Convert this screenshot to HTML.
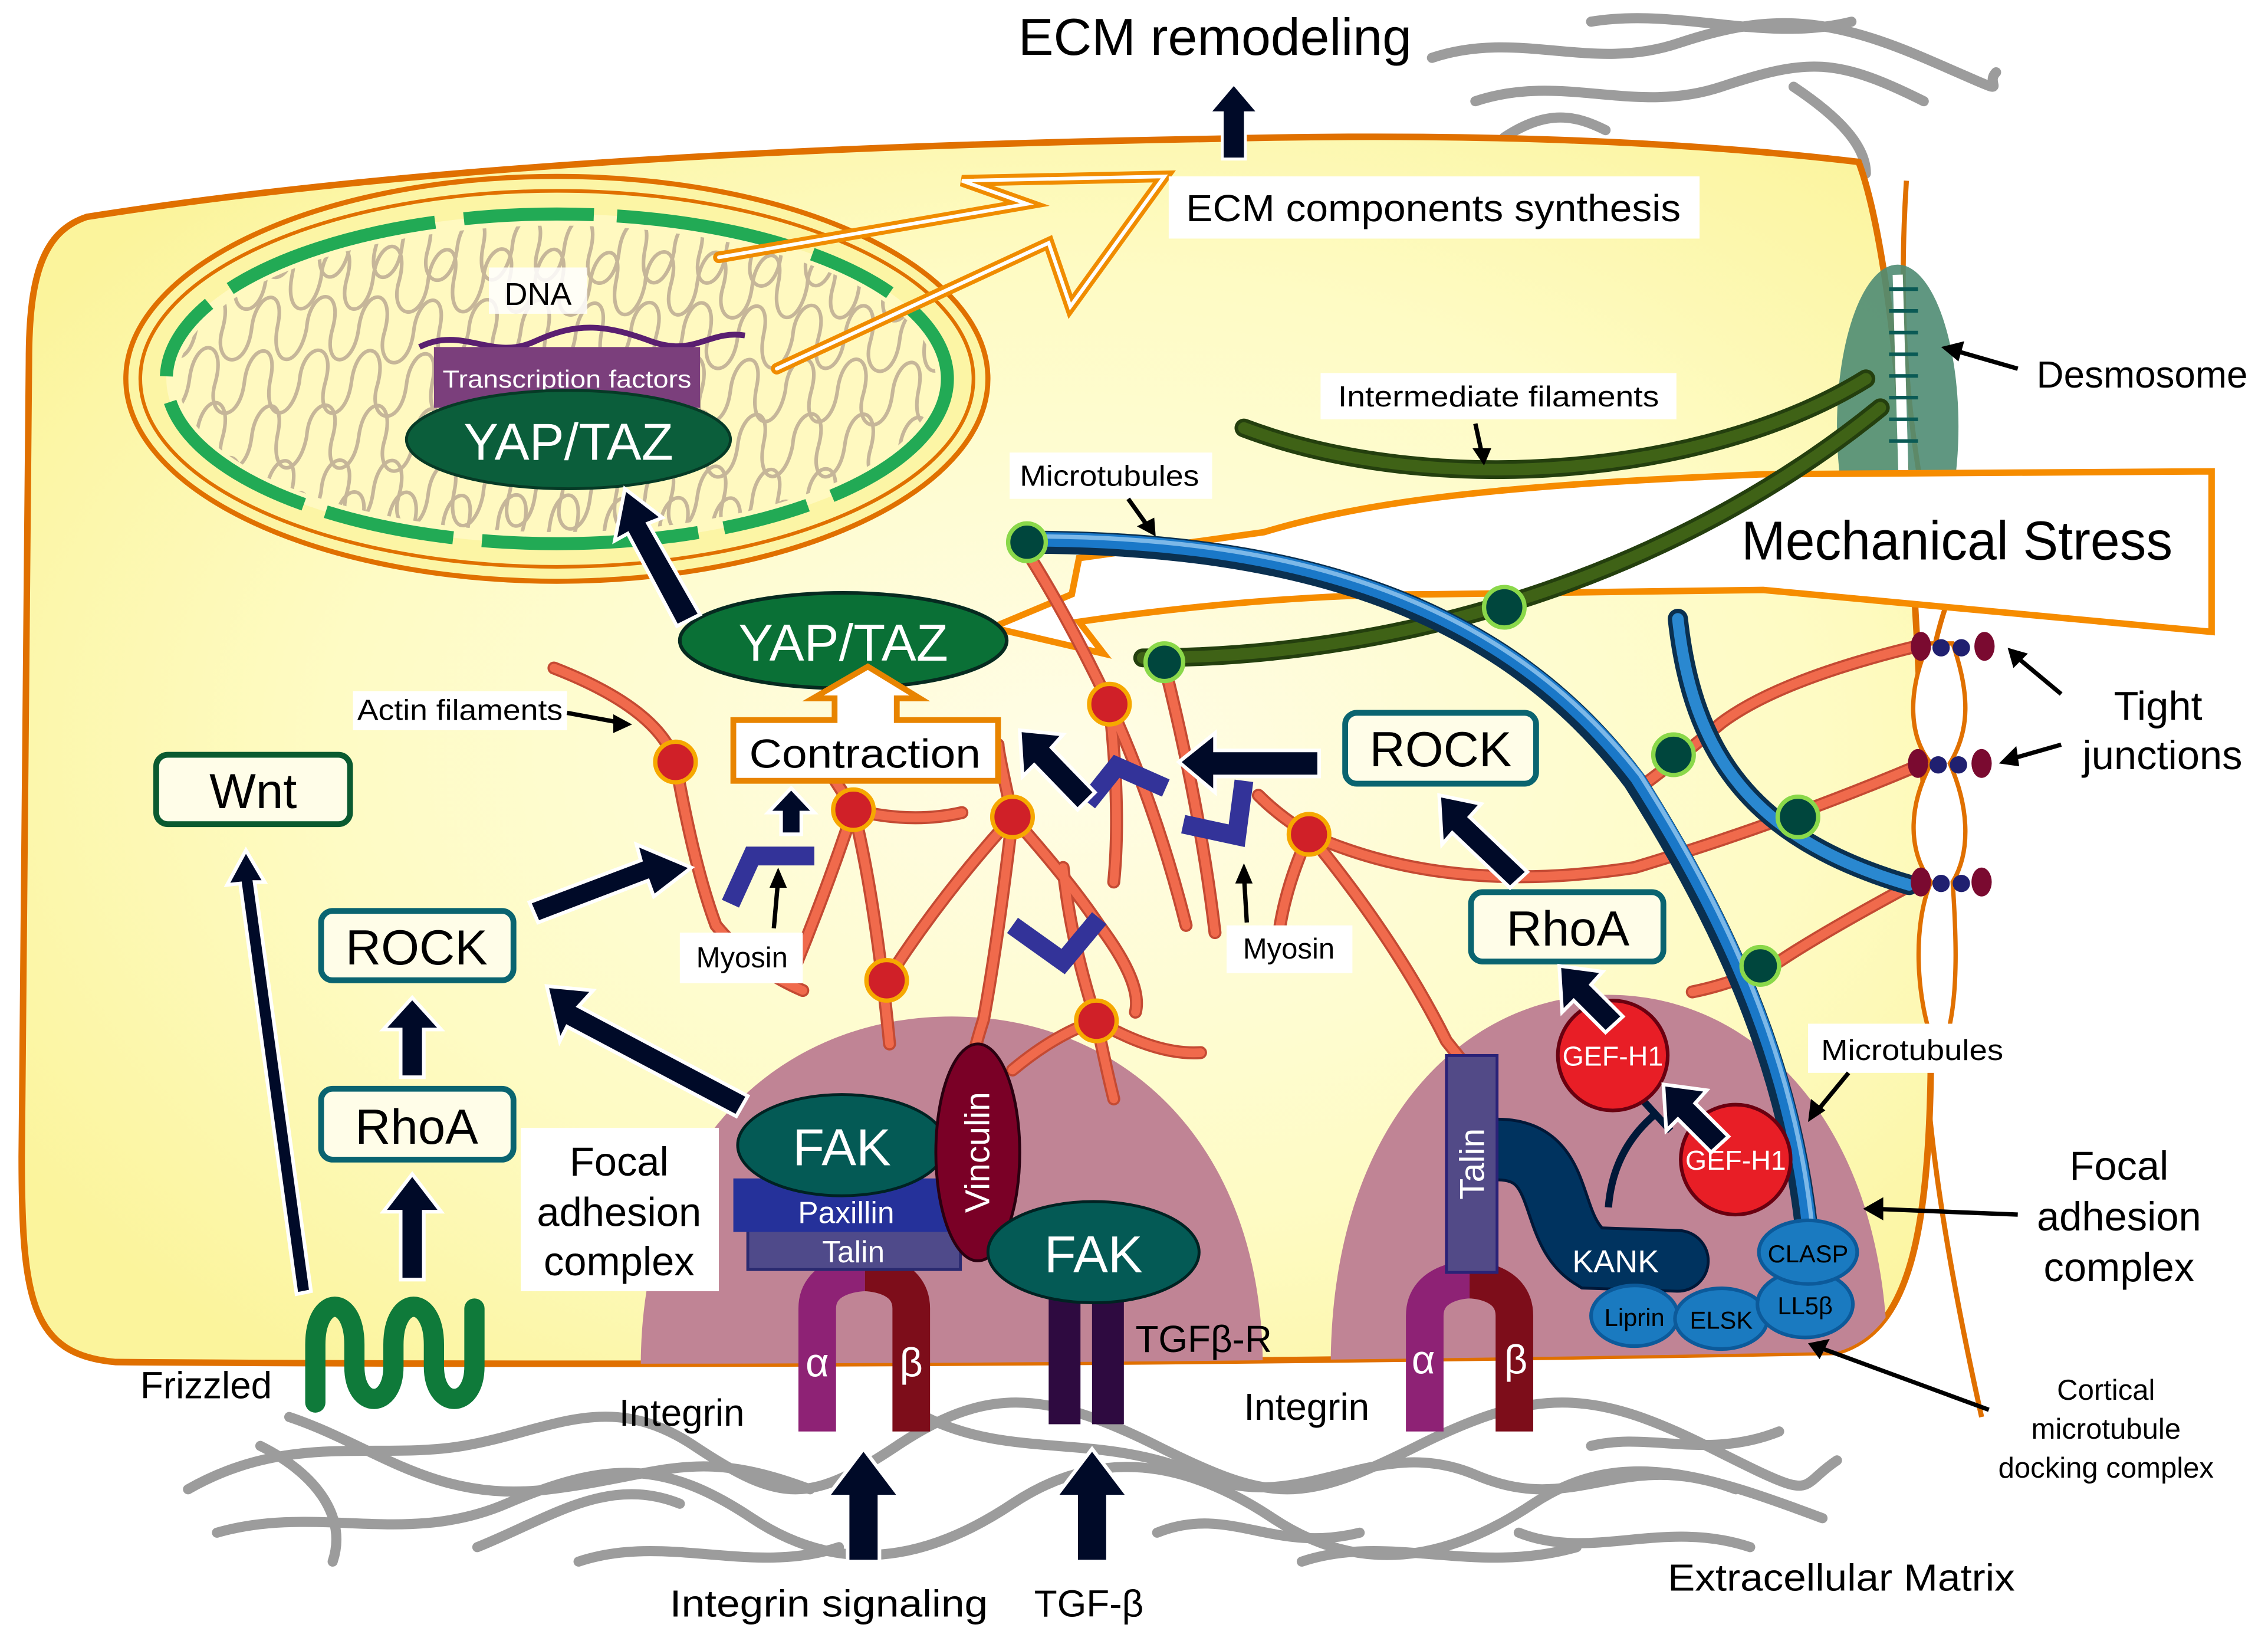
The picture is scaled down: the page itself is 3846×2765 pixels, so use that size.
<!DOCTYPE html>
<html><head><meta charset="utf-8"><style>
html,body{margin:0;padding:0;background:#fff}
svg{display:block}
text{font-family:"Liberation Sans","DejaVu Sans",sans-serif}
</style></head><body>
<svg width="3846" height="2765" viewBox="0 0 1568 1128" preserveAspectRatio="none" xmlns="http://www.w3.org/2000/svg">
<defs>
<radialGradient id="cg" cx="0.55" cy="0.5" r="0.65">
<stop offset="0" stop-color="#fffde6"/><stop offset="0.6" stop-color="#fefbc4"/><stop offset="1" stop-color="#fbf49c"/>
</radialGradient>
<clipPath id="cell"><path d="M60 150 C300 112 600 100 840 96 C1000 92 1150 96 1285 112 C1318 200 1330 500 1335 700 C1336 850 1322 920 1270 935 C900 942 500 945 80 942 C22 937 15 900 15 800 L20 250 C20 190 30 160 60 150 Z"/></clipPath>
<clipPath id="nuc"><ellipse cx="385" cy="262" rx="262" ry="106"/></clipPath>
<path id="sq" d="M0 0 c5 -30 25 -30 18 0 c-6 28 14 30 18 0 c4 -30 26 -28 18 2 c-8 26 16 32 20 0 c3 -26 24 -30 18 -2 c-6 30 14 32 20 2 c2 -28 26 -30 18 0 c-8 28 14 30 18 0 c4 -30 26 -28 18 2 c-8 26 16 32 20 0 c3 -26 24 -30 18 -2 c-6 30 14 32 20 2 c2 -28 26 -30 18 0 c-8 28 14 30 18 0 c4 -30 26 -28 18 2 c-8 26 16 32 20 0 c3 -26 24 -30 18 -2 c-6 30 14 32 20 2 c2 -28 26 -30 18 0 c-8 28 14 30 18 0 c4 -30 26 -28 18 2 c-8 26 16 32 20 0 c3 -26 24 -30 18 -2 c-6 30 14 32 20 2 c2 -28 26 -30 18 0 c-8 28 14 30 18 0 c4 -30 26 -28 18 2 c-8 26 16 32 20 0 c3 -26 24 -30 18 -2 c-6 30 14 32 20 2 c2 -28 26 -30 18 0 c-8 28 14 30 18 0 c4 -30 26 -28 18 2 c-8 26 16 32 20 0 c3 -26 24 -30 18 -2 c-6 30 14 32 20 2"/>
</defs>
<rect width="1568" height="1128" fill="#fff"/>
<g fill="none" stroke="#9c9c9c" stroke-width="7" stroke-linecap="round">
<path d="M130 1030 C200 990 260 1010 320 1000 S420 960 480 1000 S560 1040 620 1000 S720 960 800 1000 S900 1040 980 1000 S1100 960 1180 1000 S1240 1030 1270 1010"/>
<path d="M150 1060 C220 1040 280 1070 350 1040 S460 1010 520 1050 S640 1080 700 1040 S820 1010 880 1050 S1000 1080 1060 1040 S1180 1020 1260 1050"/>
<path d="M200 980 C260 1000 300 1040 380 1030 S480 1000 560 1030"/>
<path d="M640 980 C700 1010 760 990 830 1020 S950 990 1020 1020 S1120 1000 1200 1030"/>
<path d="M400 1080 C460 1060 520 1090 580 1070 M900 1080 C960 1060 1020 1090 1090 1070"/>
<path d="M180 1000 C220 1020 240 1050 230 1080 M1100 1000 C1140 990 1180 1010 1230 990"/>
<path d="M330 1070 C380 1050 420 1020 470 1040 M800 1060 C850 1040 880 1075 940 1060 M1050 1060 C1100 1080 1150 1050 1210 1070"/>
<path d="M990 40 C1050 20 1100 50 1160 30 S1260 10 1330 40 S1370 60 1380 50"/>
<path d="M1020 70 C1080 50 1130 80 1190 60 S1270 40 1330 70"/>
<path d="M1100 15 C1160 5 1220 30 1280 15 M1240 60 C1270 80 1290 100 1290 120 M1040 95 C1070 75 1090 80 1110 90"/>
</g>
<path d="M1318 125 C1310 250 1325 330 1345 420 C1325 480 1325 560 1340 610 C1320 680 1330 800 1370 980" fill="none" stroke="#e07000" stroke-width="3.5"/>
<path d="M60 150 C300 112 600 100 840 96 C1000 92 1150 96 1285 112 C1318 200 1330 500 1335 700 C1336 850 1322 920 1270 935 C900 942 500 945 80 942 C22 937 15 900 15 800 L20 250 C20 190 30 160 60 150 Z" fill="url(#cg)" stroke="#e07000" stroke-width="4.5"/>
<path d="M1333 445 C1318 480 1320 510 1335 528 C1318 560 1320 590 1335 610 C1322 640 1325 690 1336 720 L1345 720 C1355 690 1352 640 1350 610 C1362 590 1362 560 1348 528 C1362 505 1362 480 1350 445 Z" fill="#fff" stroke="#e07000" stroke-width="3"/>
<ellipse cx="1312" cy="295" rx="42" ry="112" fill="#4f8c73" opacity="0.9"/>
<line x1="1312" y1="190" x2="1318" y2="400" stroke="#fff" stroke-width="7"/>
<g stroke="#0a5a55" stroke-width="2.5"><path d="M1306 200 L1326 200 M1306 215 L1326 215 M1306 230 L1326 230 M1306 245 L1326 245 M1306 260 L1326 260 M1306 275 L1326 275 M1306 290 L1326 290 M1306 305 L1326 305"/></g>
<g clip-path="url(#cell)">
<path d="M443 945 C443 790 540 703 658 703 C776 703 873 790 873 945 Z" fill="#c08495"/>
<path d="M920 945 C920 780 1010 688 1112 688 C1215 688 1305 780 1305 945 Z" fill="#c08495"/>
</g>
<ellipse cx="385" cy="262" rx="298" ry="140" fill="#fcf5a5" stroke="#e07000" stroke-width="3.5"/>
<ellipse cx="385" cy="262" rx="288" ry="130" fill="none" stroke="#e07000" stroke-width="2.5"/>
<ellipse cx="385" cy="262" rx="270" ry="114" fill="#fff9c0"/>
<g clip-path="url(#nuc)" fill="none" stroke="#c6b699" stroke-width="2.5">
<use href="#sq" x="110" y="190"/><use href="#sq" x="100" y="225"/><use href="#sq" x="95" y="262"/><use href="#sq" x="100" y="300"/><use href="#sq" x="110" y="338"/><use href="#sq" x="130" y="168"/><use href="#sq" x="120" y="360"/>
</g>
<ellipse cx="385" cy="262" rx="270" ry="114" fill="none" stroke="#22aa55" stroke-width="9" stroke-dasharray="120 18 60 18 150 20 90 16"/>
<g fill="none" stroke-linejoin="miter" stroke-linecap="round">
<polyline points="497,178 710,141 665,125 805,122 740,212 725,168 537,255" stroke="#f08c00" stroke-width="8"/>
<polyline points="497,178 710,141 665,125 805,122 740,212 725,168 537,255" stroke="#fff" stroke-width="2.5"/>
</g>
<path d="M290 240 C320 225 340 250 370 236 S420 225 450 236 S490 228 515 232" fill="none" stroke="#5a1f70" stroke-width="4"/>
<rect x="300" y="240" width="184" height="42" fill="#7b3f7c"/>
<text x="392" y="268" font-size="17" fill="#fff" text-anchor="middle" textLength="172" lengthAdjust="spacingAndGlyphs">Transcription factors</text>
<rect x="338" y="185" width="68" height="32" fill="#fff" opacity="0.85"/>
<text x="372" y="211" font-size="22" text-anchor="middle">DNA</text>
<ellipse cx="393" cy="304" rx="112" ry="34" fill="#0b5e3b" stroke="#063a26" stroke-width="2"/>
<text x="393" y="318" font-size="36" fill="#fff" text-anchor="middle" textLength="145" lengthAdjust="spacingAndGlyphs">YAP/TAZ</text>
<text x="840" y="38" font-size="36" text-anchor="middle" textLength="272" lengthAdjust="spacingAndGlyphs">ECM remodeling</text>
<polygon points="853,58 870,78 861,78 861,110 845,110 845,78 836,78" fill="#000a28" stroke="#fff" stroke-width="2"/>
<rect x="808" y="122" width="367" height="43" fill="#fff"/>
<text x="991" y="153" font-size="26" text-anchor="middle" textLength="342" lengthAdjust="spacingAndGlyphs">ECM components synthesis</text>
<path d="M1529 326 L1219 328 C1050 335 950 345 874 368 L746 386 L741 411 L686 434 L763 452 L746 430 C850 415 930 411 989 411 L1219 408 L1529 437 Z" fill="#fff" stroke="#f68c00" stroke-width="4.5"/>
<text x="1353" y="387" font-size="38" text-anchor="middle" textLength="298" lengthAdjust="spacingAndGlyphs">Mechanical Stress</text>
<g fill="none" stroke-linecap="round">
<path d="M860 296 C990 345 1180 330 1290 262" stroke="#243f0e" stroke-width="13"/>
<path d="M860 296 C990 345 1180 330 1290 262" stroke="#3f6216" stroke-width="8"/>
<path d="M790 455 C1000 455 1180 380 1300 282" stroke="#243f0e" stroke-width="13"/>
<path d="M790 455 C1000 455 1180 380 1300 282" stroke="#3f6216" stroke-width="8"/>
</g>
<g fill="none" stroke="#c44a33" stroke-width="9" stroke-linecap="round">
<path id="a1" d="M383 462 Q455 490 467 527 Q480 600 495 640 Q520 670 555 685"/>
<path id="a2" d="M590 560 Q630 570 665 562 M590 560 Q605 620 615 722 M590 560 Q570 620 545 680 M590 560 Q575 535 560 515"/>
<path id="a3" d="M613 678 Q650 620 700 565 Q690 520 690 515 M700 565 Q690 650 680 705 Q672 730 670 745 M700 565 Q740 610 760 640 Q790 680 785 700"/>
<path id="a4" d="M712 385 Q740 430 767 487 Q800 560 820 640 M805 460 Q830 560 840 645 M767 487 Q775 560 770 610"/>
<path id="a5" d="M905 577 Q1000 620 1130 600 Q1230 570 1325 530 M905 577 Q890 610 885 640 M905 577 Q965 650 1000 720 L1012 735 M870 550 Q885 565 905 577"/>
<path id="a6" d="M700 740 Q730 715 758 706 Q800 730 830 728 M758 706 Q765 740 770 760 M758 706 Q740 650 735 600"/>
<path id="a7" d="M1325 447 Q1230 470 1190 500 Q1160 525 1140 540 M1325 610 Q1260 645 1230 665 Q1200 680 1170 686"/>
</g>
<g fill="none" stroke="#f06a4c" stroke-width="6" stroke-linecap="round">
<use href="#a1"/><use href="#a2"/><use href="#a3"/><use href="#a4"/><use href="#a5"/><use href="#a6"/><use href="#a7"/>
</g>
<g fill="none" stroke="#333399" stroke-width="13" stroke-linejoin="miter">
<path d="M505 625 L520 592 L563 592"/>
<path d="M752 555 L772 530 L806 545"/>
<path d="M818 570 L855 578 L860 540"/>
<path d="M700 640 L735 665 L760 635"/>
</g>
<g fill="none" stroke-linecap="round">
<path d="M710 375 C900 375 1040 420 1130 540 C1200 650 1240 750 1250 860" stroke="#0a3050" stroke-width="16"/>
<path d="M710 373 C900 373 1040 418 1132 538 C1202 648 1242 748 1252 860" stroke="#1a78c8" stroke-width="10"/>
<path d="M712 371 C900 371 1040 416 1134 536 C1204 646 1244 746 1254 860" stroke="#7cb8e8" stroke-width="3"/>
<path d="M1160 428 C1170 520 1210 580 1320 612" stroke="#0a3050" stroke-width="14"/>
<path d="M1160 428 C1170 520 1210 580 1320 612" stroke="#2a88d0" stroke-width="8"/>
</g>
<g fill="#00463d" stroke="#8ad84a" stroke-width="3">
<circle cx="710" cy="375" r="13"/><circle cx="1040" cy="420" r="14"/><circle cx="1157" cy="522" r="14"/><circle cx="1243" cy="565" r="14"/><circle cx="1217" cy="668" r="13"/><circle cx="805" cy="458" r="13"/>
</g>
<g fill="#d02028" stroke="#f6a800" stroke-width="3">
<circle cx="467" cy="527" r="14"/><circle cx="590" cy="560" r="14"/><circle cx="700" cy="565" r="14"/><circle cx="767" cy="487" r="14"/><circle cx="905" cy="577" r="14"/><circle cx="613" cy="678" r="14"/><circle cx="758" cy="706" r="14"/>
</g>
<g>
<ellipse cx="1328" cy="447" rx="7" ry="10" fill="#7a0a30"/><circle cx="1342" cy="448" r="6" fill="#202070"/><circle cx="1356" cy="448" r="6" fill="#202070"/><ellipse cx="1372" cy="447" rx="7" ry="10" fill="#7a0a30"/>
<ellipse cx="1326" cy="528" rx="7" ry="10" fill="#7a0a30"/><circle cx="1340" cy="529" r="6" fill="#202070"/><circle cx="1354" cy="529" r="6" fill="#202070"/><ellipse cx="1370" cy="528" rx="7" ry="10" fill="#7a0a30"/>
<ellipse cx="1328" cy="610" rx="7" ry="10" fill="#7a0a30"/><circle cx="1342" cy="611" r="6" fill="#202070"/><circle cx="1356" cy="611" r="6" fill="#202070"/><ellipse cx="1370" cy="610" rx="7" ry="10" fill="#7a0a30"/>
</g>
<ellipse cx="583" cy="443" rx="113" ry="33" fill="#0a7036" stroke="#062a20" stroke-width="2.5"/>
<text x="583" y="457" font-size="36" fill="#fff" text-anchor="middle" textLength="145" lengthAdjust="spacingAndGlyphs">YAP/TAZ</text>
<path d="M507 498 L577 498 L577 483 L562 483 L600 461 L636 483 L620 483 L620 498 L690 498 L690 540 L507 540 Z" fill="#fff" stroke="#e88400" stroke-width="4"/>
<text x="598" y="531" font-size="28" text-anchor="middle" textLength="160" lengthAdjust="spacingAndGlyphs">Contraction</text>
<g fill="#fffde8" stroke-width="4">
<rect x="108" y="522" width="134" height="48" rx="8" stroke="#0a5a30"/>
<rect x="222" y="630" width="133" height="48" rx="8" stroke="#0a6470"/>
<rect x="222" y="753" width="133" height="49" rx="8" stroke="#0a6470"/>
<rect x="930" y="493" width="132" height="49" rx="8" stroke="#0a6470"/>
<rect x="1017" y="617" width="133" height="48" rx="8" stroke="#0a6470"/>
</g>
<g font-size="34" text-anchor="middle">
<text x="175" y="559">Wnt</text><text x="288" y="667">ROCK</text><text x="288" y="791">RhoA</text><text x="996" y="530">ROCK</text><text x="1084" y="654">RhoA</text>
</g>
<g fill="#000a28" stroke="#fff" stroke-width="2.5" stroke-linejoin="miter">
<polygon points="815,527 840,507 840,519 912,519 912,537 840,537 840,548"/>
<polygon points="705,505 735,508 727,517 757,548 745,560 715,529 707,537"/>
<polygon points="547,545 563,562 554,562 554,577 540,577 540,562 531,562"/>
<polygon points="478,600 452,620 448,609 372,638 366,624 443,595 440,584"/>
<polygon points="378,682 410,685 400,696 517,758 509,772 392,710 387,720"/>
<polygon points="285,690 305,712 293,712 293,745 277,745 277,712 265,712"/>
<polygon points="285,812 305,838 293,838 293,885 277,885 277,838 265,838"/>
<polygon points="170,588 183,610 176,610 215,893 205,895 166,611 157,612"/>
<polygon points="432,338 458,358 448,362 484,425 468,433 434,369 425,374"/>
<polygon points="995,550 1024,556 1016,565 1056,603 1044,614 1004,576 997,584"/>
<polygon points="597,1002 622,1035 608,1035 608,1080 586,1080 586,1035 572,1035"/>
<polygon points="755,1002 780,1035 766,1035 766,1080 744,1080 744,1035 730,1035"/>
</g>
<path d="M565 990 L565 905 C565 880 598 880 598 880" fill="none" stroke="#8e2275" stroke-width="26"/>
<path d="M630 990 L630 905 C630 880 598 880 598 880" fill="none" stroke="#7d0d1a" stroke-width="26"/>
<text x="565" y="952" font-size="28" fill="#fff" text-anchor="middle">α</text>
<text x="630" y="952" font-size="28" fill="#fff" text-anchor="middle">β</text>
<rect x="725" y="895" width="22" height="90" fill="#2e0a40"/><rect x="755" y="895" width="22" height="90" fill="#2e0a40"/>
<rect x="517" y="850" width="147" height="28" fill="#4f4a8a" stroke="#2a2a70" stroke-width="2"/>
<text x="590" y="873" font-size="21" fill="#fff" text-anchor="middle">Talin</text>
<rect x="507" y="815" width="153" height="37" fill="#25319a"/>
<text x="585" y="846" font-size="21" fill="#fff" text-anchor="middle">Paxillin</text>
<ellipse cx="582" cy="792" rx="72" ry="35" fill="#045a55" stroke="#022" stroke-width="2"/>
<text x="582" y="806" font-size="36" fill="#fff" text-anchor="middle">FAK</text>
<ellipse cx="676" cy="797" rx="29" ry="75" fill="#7a0026" stroke="#2a0010" stroke-width="2"/>
<text transform="translate(684,797) rotate(-90)" font-size="24" fill="#fff" text-anchor="middle">Vinculin</text>
<ellipse cx="756" cy="866" rx="73" ry="35" fill="#045a55" stroke="#022" stroke-width="2"/>
<text x="756" y="880" font-size="36" fill="#fff" text-anchor="middle">FAK</text>
<path d="M985 990 L985 910 C985 885 1016 885 1016 885" fill="none" stroke="#8e2275" stroke-width="26"/>
<path d="M1047 990 L1047 910 C1047 885 1016 885 1016 885" fill="none" stroke="#7d0d1a" stroke-width="26"/>
<text x="984" y="950" font-size="28" fill="#fff" text-anchor="middle">α</text>
<text x="1048" y="950" font-size="28" fill="#fff" text-anchor="middle">β</text>
<path d="M1035 795 C1085 795 1068 850 1100 870 L1160 872" fill="none" stroke="#001838" stroke-width="44" stroke-linecap="round"/>
<path d="M1035 795 C1085 795 1068 850 1100 870 L1160 872" fill="none" stroke="#00335f" stroke-width="40" stroke-linecap="round"/>
<text x="1117" y="880" font-size="22" fill="#fff" text-anchor="middle">KANK</text>
<rect x="1000" y="730" width="35" height="150" fill="#524a87" stroke="#2a2277" stroke-width="2"/>
<text transform="translate(1026,805) rotate(-90)" font-size="24" fill="#fff" text-anchor="middle">Talin</text>
<path d="M1112 835 Q1115 795 1145 770" fill="none" stroke="#001838" stroke-width="5"/>
<line x1="1133" y1="758" x2="1155" y2="782" stroke="#001838" stroke-width="5"/>
<g fill="#1a7ac0" stroke="#0c5a9a" stroke-width="2.5">
<ellipse cx="1130" cy="910" rx="30" ry="21"/><ellipse cx="1190" cy="912" rx="32" ry="21"/><ellipse cx="1248" cy="902" rx="33" ry="23"/><ellipse cx="1250" cy="866" rx="34" ry="22"/>
</g>
<g font-size="17" text-anchor="middle"><text x="1130" y="917">Liprin</text><text x="1190" y="919">ELSK</text><text x="1248" y="909">LL5β</text><text x="1250" y="873">CLASP</text></g>
<g fill="#e81e26" stroke="#6a0010" stroke-width="2.5"><circle cx="1115" cy="730" r="38"/><circle cx="1200" cy="802" r="38"/></g>
<g font-size="19" fill="#fff" text-anchor="middle"><text x="1115" y="737">GEF-H1</text><text x="1200" y="809">GEF-H1</text></g>
<g fill="#000a28" stroke="#fff" stroke-width="2.5">
<polygon points="1078,668 1108,672 1100,681 1122,703 1110,714 1088,692 1080,700"/>
<polygon points="1150,750 1180,754 1172,763 1195,786 1183,797 1160,774 1152,782"/>
</g>
<path d="M218 970 L218 930 C218 895 245 895 245 930 L245 945 C245 975 272 975 272 945 L272 930 C272 895 300 895 300 930 L300 945 C300 975 328 975 328 945 L328 905" fill="none" stroke="#0f7a3a" stroke-width="14" stroke-linecap="round"/>
<g fill="#fff">
<rect x="244" y="478" width="148" height="27"/><rect x="470" y="645" width="85" height="35"/><rect x="848" y="640" width="87" height="33"/>
<rect x="698" y="313" width="140" height="32"/><rect x="913" y="258" width="246" height="32"/><rect x="1250" y="708" width="145" height="34"/>
<rect x="360" y="780" width="137" height="113"/>
</g>
<g font-size="20">
<text x="318" y="498" text-anchor="middle" textLength="142" lengthAdjust="spacingAndGlyphs">Actin filaments</text>
<text x="513" y="669" text-anchor="middle">Myosin</text>
<text x="891" y="663" text-anchor="middle">Myosin</text>
<text x="767" y="336" text-anchor="middle" textLength="124" lengthAdjust="spacingAndGlyphs">Microtubules</text>
<text x="1036" y="281" text-anchor="middle" textLength="222" lengthAdjust="spacingAndGlyphs">Intermediate filaments</text>
<text x="1322" y="733" text-anchor="middle" textLength="126" lengthAdjust="spacingAndGlyphs">Microtubules</text>
</g>
<g font-size="28" text-anchor="middle"><text x="428" y="813">Focal</text><text x="428" y="848">adhesion</text><text x="428" y="882">complex</text>
<text x="1465" y="816">Focal</text><text x="1465" y="851">adhesion</text><text x="1465" y="886">complex</text>
<text x="1492" y="498">Tight</text><text x="1495" y="532">junctions</text></g>
<g font-size="26">
<text x="1408" y="268">Desmosome</text>
<text x="97" y="967">Frizzled</text>
<text x="428" y="986">Integrin</text>
<text x="860" y="982">Integrin</text>
<text x="785" y="935">TGFβ-R</text>
<text x="463" y="1118" textLength="220" lengthAdjust="spacingAndGlyphs">Integrin signaling</text>
<text x="715" y="1118">TGF-β</text>
<text x="1153" y="1100" textLength="240" lengthAdjust="spacingAndGlyphs">Extracellular Matrix</text>
</g>
<g font-size="20" text-anchor="middle"><text x="1456" y="968">Cortical</text><text x="1456" y="995">microtubule</text><text x="1456" y="1022">docking complex</text></g>
<g stroke="#000" stroke-width="3" fill="none">
<line x1="1395" y1="255" x2="1350" y2="242"/><line x1="1425" y1="480" x2="1395" y2="455"/><line x1="1425" y1="515" x2="1390" y2="525"/>
<line x1="1395" y1="840" x2="1295" y2="836"/><line x1="1375" y1="975" x2="1258" y2="932"/><line x1="1278" y1="742" x2="1255" y2="770"/>
<line x1="392" y1="493" x2="430" y2="500"/><line x1="535" y1="642" x2="538" y2="608"/><line x1="862" y1="638" x2="860" y2="605"/>
<line x1="780" y1="345" x2="795" y2="366"/><line x1="1020" y1="293" x2="1025" y2="316"/>
</g>
<g fill="#000">
<polygon points="1342,240 1358,236 1354,250"/><polygon points="1388,448 1402,452 1392,462"/><polygon points="1382,528 1394,516 1396,530"/>
<polygon points="1288,836 1302,828 1302,844"/><polygon points="1250,929 1265,926 1258,940"/><polygon points="1250,776 1252,760 1262,768"/>
<polygon points="437,501 424,494 424,507"/><polygon points="538,600 532,614 544,614"/><polygon points="860,597 854,611 866,611"/>
<polygon points="799,371 786,364 798,358"/><polygon points="1026,322 1018,310 1031,310"/>
</g>
</svg>
</body></html>
